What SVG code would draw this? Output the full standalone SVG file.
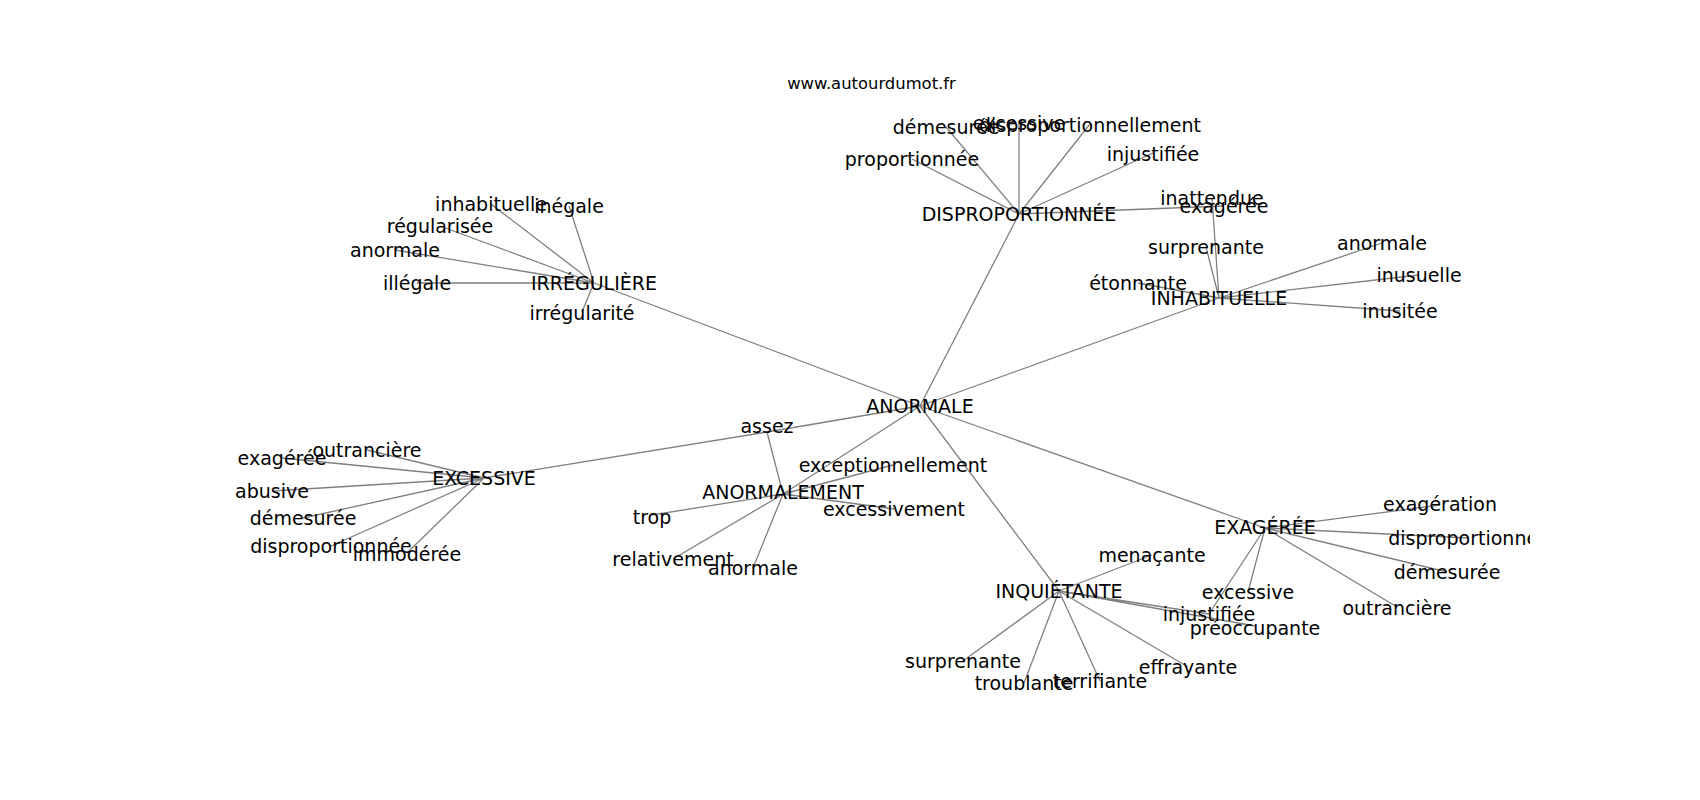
<svg xmlns="http://www.w3.org/2000/svg" width="1700" height="800" viewBox="0 0 1700 800">
<style>
.e{stroke:#808080;stroke-width:1.3;fill:none}
.l{font-family:"DejaVu Sans",sans-serif;font-size:19px;fill:#000;text-anchor:middle}
.t{font-family:"DejaVu Sans",sans-serif;font-size:16.4px;fill:#000;text-anchor:middle}
</style>
<defs>
<clipPath id="ax"><rect x="212.5" y="96" width="1317.5" height="608"/></clipPath>
</defs>
<rect width="1700" height="800" fill="#fff"/>
<text class="t" x="871.5" y="89">www.autourdumot.fr</text>
<g id="connectors" clip-path="url(#ax)">
<path class="e" d="M920 406L594 283M920 406L1019 214M920 406L1219 298M920 406L1265 528M920 406L1059 591M920 406L783 494M920 406L767 432M767 432L484 478M767 432L783 494"/>
<path class="e" d="M1019 214L946 127M1019 214L1019 122M1019 214L1090 124M1019 214L912 159M1019 214L1153 153M1019 214L1224 206"/>
<path class="e" d="M594 283L491 204M594 283L569 206M594 283L440 226M594 283L395 250M594 283L417 283M594 283L582 312"/>
<path class="e" d="M1219 298L1212 198M1219 298L1206 247M1219 298L1138 283M1219 298L1382 243M1219 298L1419 275M1219 298L1400 311"/>
<path class="e" d="M484 478L367 450M484 478L282 458M484 478L272 491M484 478L303 518M484 478L331 546M484 478L407 553"/>
<path class="e" d="M783 494L893 465M783 494L894 509M783 494L652 515M783 494L673 559M783 494L753 568"/>
<path class="e" d="M1265 528L1440 505M1265 528L1469 538M1265 528L1447 572M1265 528L1397 607M1265 528L1248 592M1265 528L1209 614"/>
<path class="e" d="M1059 591L1152 555M1059 591L1209 614M1059 591L1255 626M1059 591L963 661M1059 591L1024 683M1059 591L1100 681M1059 591L1188 667"/>
</g>
<g clip-path="url(#ax)">
<g id="n-anormale"><text class="l" x="920" y="413">ANORMALE</text></g>
<g id="n-disproportionnee"><text class="l" x="1019" y="221">DISPROPORTIONNÉE</text></g>
<g id="n-irreguliere"><text class="l" x="594" y="290">IRRÉGULIÈRE</text></g>
<g id="n-inhabituelle"><text class="l" x="1219" y="305">INHABITUELLE</text></g>
<g id="n-excessive"><text class="l" x="484" y="485">EXCESSIVE</text></g>
<g id="n-anormalement"><text class="l" x="783" y="499">ANORMALEMENT</text></g>
<g id="n-exageree"><text class="l" x="1265" y="534">EXAGÉRÉE</text></g>
<g id="n-inquietante"><text class="l" x="1059" y="598">INQUIÉTANTE</text></g>
<g id="n-assez"><text class="l" x="767" y="433">assez</text></g>

<g id="n-d-demesuree"><text class="l" x="946" y="134">démesurée</text></g>
<g id="n-d-excessive"><text class="l" x="1019" y="130">excessive</text></g>
<g id="n-d-disproportionnellement"><text class="l" x="1090" y="132">disproportionnellement</text></g>
<g id="n-d-proportionnee"><text class="l" x="912" y="166">proportionnée</text></g>
<g id="n-d-injustifiee"><text class="l" x="1153" y="161">injustifiée</text></g>
<g id="n-d-exageree"><text class="l" x="1224" y="213">exagérée</text></g>

<g id="n-i-inhabituelle"><text class="l" x="491" y="211">inhabituelle</text></g>
<g id="n-i-inegale"><text class="l" x="569" y="213">inégale</text></g>
<g id="n-i-regularisee"><text class="l" x="440" y="233">régularisée</text></g>
<g id="n-i-anormale"><text class="l" x="395" y="257">anormale</text></g>
<g id="n-i-illegale"><text class="l" x="417" y="290">illégale</text></g>
<g id="n-i-irregularite"><text class="l" x="582" y="320">irrégularité</text></g>

<g id="n-h-inattendue"><text class="l" x="1212" y="205">inattendue</text></g>
<g id="n-h-surprenante"><text class="l" x="1206" y="254">surprenante</text></g>
<g id="n-h-etonnante"><text class="l" x="1138" y="290">étonnante</text></g>
<g id="n-h-anormale"><text class="l" x="1382" y="250">anormale</text></g>
<g id="n-h-inusuelle"><text class="l" x="1419" y="282">inusuelle</text></g>
<g id="n-h-inusitee"><text class="l" x="1400" y="318">inusitée</text></g>

<g id="n-e-outranciere"><text class="l" x="367" y="457">outrancière</text></g>
<g id="n-e-exageree"><text class="l" x="282" y="465">exagérée</text></g>
<g id="n-e-abusive"><text class="l" x="272" y="498">abusive</text></g>
<g id="n-e-demesuree"><text class="l" x="303" y="525">démesurée</text></g>
<g id="n-e-disproportionnee"><text class="l" x="331" y="553">disproportionnée</text></g>
<g id="n-e-immoderee"><text class="l" x="407" y="561">immodérée</text></g>

<g id="n-m-exceptionnellement"><text class="l" x="893" y="472">exceptionnellement</text></g>
<g id="n-m-excessivement"><text class="l" x="894" y="516">excessivement</text></g>
<g id="n-m-trop"><text class="l" x="652" y="524">trop</text></g>
<g id="n-m-relativement"><text class="l" x="673" y="566">relativement</text></g>
<g id="n-m-anormale"><text class="l" x="753" y="575">anormale</text></g>

<g id="n-x-exageration"><text class="l" x="1440" y="511">exagération</text></g>
<g id="n-x-disproportionnee"><text class="l" x="1469" y="545">disproportionnée</text></g>
<g id="n-x-demesuree"><text class="l" x="1447" y="579">démesurée</text></g>
<g id="n-x-outranciere"><text class="l" x="1397" y="615">outrancière</text></g>
<g id="n-x-excessive"><text class="l" x="1248" y="599">excessive</text></g>
<g id="n-x-injustifiee"><text class="l" x="1209" y="621">injustifiée</text></g>

<g id="n-q-menacante"><text class="l" x="1152" y="562">menaçante</text></g>
<g id="n-q-preoccupante"><text class="l" x="1255" y="635">préoccupante</text></g>
<g id="n-q-surprenante"><text class="l" x="963" y="668">surprenante</text></g>
<g id="n-q-troublante"><text class="l" x="1024" y="690">troublante</text></g>
<g id="n-q-terrifiante"><text class="l" x="1100" y="688">terrifiante</text></g>
<g id="n-q-effrayante"><text class="l" x="1188" y="674">effrayante</text></g>
</g>
</svg>
